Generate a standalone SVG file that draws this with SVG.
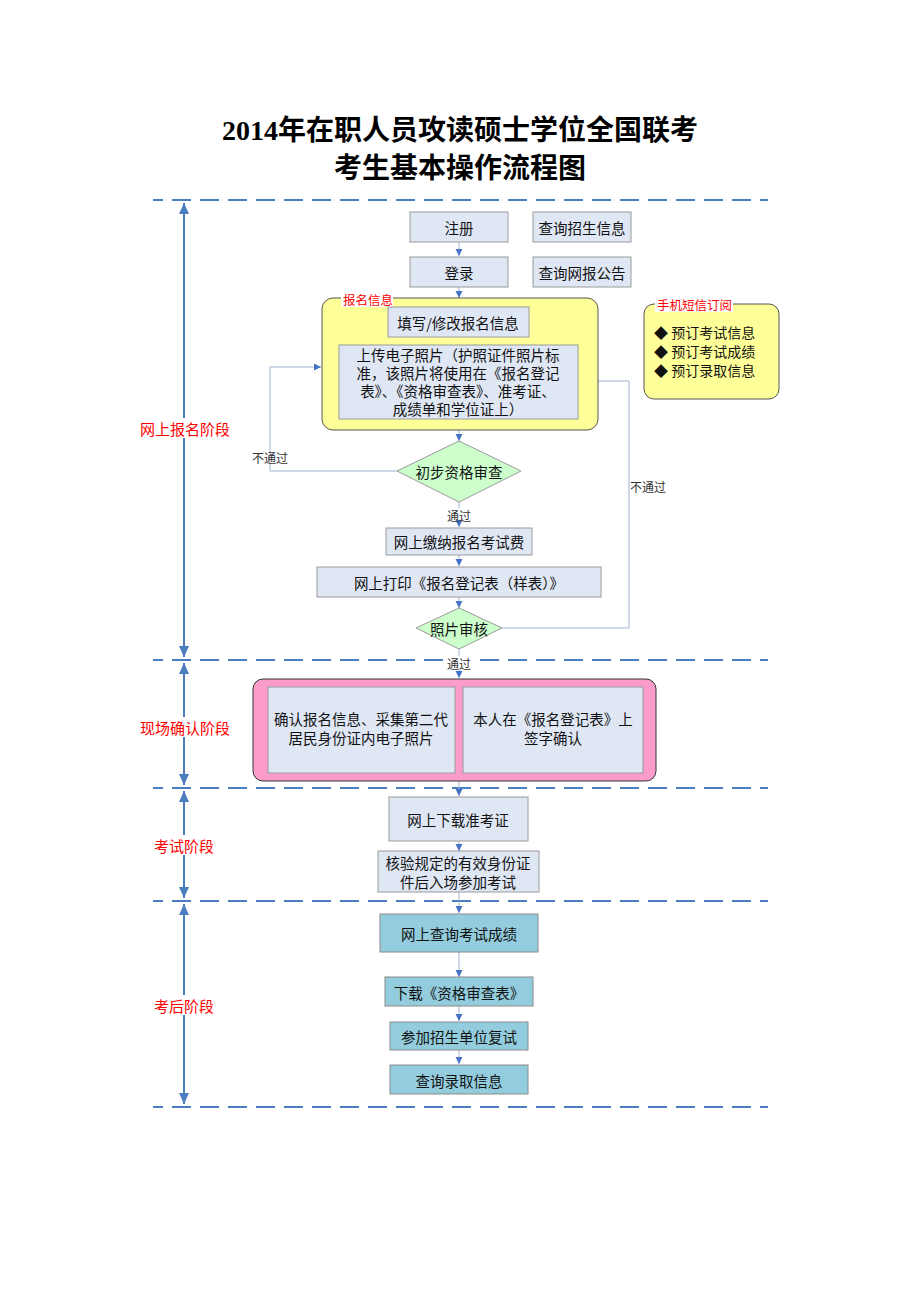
<svg xmlns="http://www.w3.org/2000/svg" width="920" height="1302" viewBox="0 0 920 1302">
<style>
.t{font-family:"Noto Sans CJK SC","Liberation Sans",sans-serif;font-size:14.5px;fill:#111;text-anchor:middle;dominant-baseline:central}
.title{font-family:"Liberation Serif","Noto Sans CJK SC",serif;font-weight:bold;font-size:28px;fill:#000;text-anchor:middle}
.red{font-family:"Noto Sans CJK SC",sans-serif;font-size:15px;fill:#ff0000;text-anchor:middle;dominant-baseline:central}
.redsm{font-family:"Noto Sans CJK SC",sans-serif;font-size:12.5px;fill:#ff0000;dominant-baseline:central}
.sm{font-family:"Noto Sans CJK SC",sans-serif;font-size:12px;fill:#333;text-anchor:middle;dominant-baseline:central}
.box{fill:#dfe7f5;stroke:#9a9a9a;stroke-width:1}
.teal{fill:#93cddd;stroke:#8a8a8a;stroke-width:1}
.dia{fill:#ccffcc;stroke:#9a9a9a;stroke-width:1}
.dash{stroke:#4a7cc0;stroke-width:2.2;stroke-dasharray:19 9;stroke-dashoffset:9;fill:none}
.stage{stroke:#4a7cc0;stroke-width:2;fill:none;marker-start:url(#big);marker-end:url(#big)}
.con{stroke:#9fb3d6;stroke-width:1;fill:none}
</style>
<defs>
<marker id="arr" markerUnits="userSpaceOnUse" markerWidth="8" markerHeight="8" refX="7" refY="4" orient="auto"><path d="M0,0.5 L7,4 L0,7.5 z" fill="#4472c4"/></marker>
<marker id="arrk" markerUnits="userSpaceOnUse" markerWidth="9" markerHeight="9" refX="8" refY="4.5" orient="auto"><path d="M0,0.5 L8,4.5 L0,8.5 z" fill="#111"/></marker>
<marker id="big" markerUnits="userSpaceOnUse" markerWidth="12" markerHeight="12" refX="11" refY="5" orient="auto-start-reverse"><path d="M0,0 L11,5 L0,10 z" fill="#4a7cc0"/></marker>
</defs>

<text class="title" x="460" y="140">2014年在职人员攻读硕士学位全国联考</text>
<text class="title" x="460" y="178">考生基本操作流程图</text>

<g id="dividers">
<line class="dash" x1="153" y1="200" x2="768" y2="200"/>
<line class="dash" x1="153" y1="660" x2="768" y2="660"/>
<line class="dash" x1="153" y1="788" x2="768" y2="788"/>
<line class="dash" x1="153" y1="901" x2="768" y2="901"/>
<line class="dash" x1="153" y1="1107" x2="768" y2="1107"/>
</g>

<g id="stages">
<line class="stage" x1="184" y1="203" x2="184" y2="657"/>
<line class="stage" x1="184" y1="663" x2="184" y2="785"/>
<line class="stage" x1="184" y1="791" x2="184" y2="898"/>
<line class="stage" x1="184" y1="904" x2="184" y2="1104"/>
<rect x="138" y="418" width="93" height="20" fill="#fff"/>
<text class="red" x="185" y="428">网上报名阶段</text>
<rect x="138" y="717" width="93" height="20" fill="#fff"/>
<text class="red" x="185" y="727">现场确认阶段</text>
<rect x="153" y="835" width="62" height="20" fill="#fff"/>
<text class="red" x="184" y="845">考试阶段</text>
<rect x="153" y="995" width="62" height="20" fill="#fff"/>
<text class="red" x="184" y="1005">考后阶段</text>
</g>

<g id="connectors">
<line class="con" x1="459" y1="242" x2="459" y2="256" marker-end="url(#arr)"/>
<line class="con" x1="459" y1="287" x2="459" y2="298" marker-end="url(#arr)"/>
<line class="con" x1="459" y1="430" x2="459" y2="441" marker-end="url(#arr)"/>
<polyline class="con" points="397,471 270,471 270,367 321,367" marker-end="url(#arr)"/>
<polyline class="con" points="502,628 629,628 629,381 579,381" marker-end="url(#arrk)"/>
<line class="con" x1="459" y1="502" x2="459" y2="508"/>
<line class="con" x1="459" y1="521" x2="459" y2="527" marker-end="url(#arr)"/>
<line class="con" x1="459" y1="555" x2="459" y2="566" marker-end="url(#arr)"/>
<line class="con" x1="459" y1="597" x2="459" y2="608" marker-end="url(#arr)"/>
<line class="con" x1="459" y1="649" x2="459" y2="656"/>
<line class="con" x1="459" y1="670" x2="459" y2="678" marker-end="url(#arr)"/>
<line class="con" x1="459" y1="781" x2="459" y2="796" marker-end="url(#arr)"/>
<line class="con" x1="459" y1="841" x2="459" y2="851" marker-end="url(#arr)"/>
<line class="con" x1="459" y1="892" x2="459" y2="913" marker-end="url(#arr)"/>
<line class="con" x1="459" y1="952" x2="459" y2="977" marker-end="url(#arr)"/>
<line class="con" x1="459" y1="1006" x2="459" y2="1021" marker-end="url(#arr)"/>
<line class="con" x1="459" y1="1050" x2="459" y2="1064" marker-end="url(#arr)"/>
<text class="sm" x="270" y="457">不通过</text>
<text class="sm" x="648" y="486">不通过</text>
<text class="sm" x="459" y="515">通过</text>
<rect x="445" y="656" width="28" height="14" fill="#fff"/>
<text class="sm" x="459" y="663">通过</text>
</g>

<g id="n-zhuce"><rect class="box" x="410" y="212" width="98" height="30"/><text class="t" x="459" y="227">注册</text></g>
<g id="n-cxzs"><rect class="box" x="533" y="212" width="98" height="30"/><text class="t" x="582" y="227">查询招生信息</text></g>
<g id="n-denglu"><rect class="box" x="410" y="257" width="98" height="30"/><text class="t" x="459" y="272">登录</text></g>
<g id="n-cxwb"><rect class="box" x="533" y="257" width="98" height="30"/><text class="t" x="582" y="272">查询网报公告</text></g>

<g id="n-bmxx">
<rect x="322" y="298" width="276" height="132" rx="11" fill="#ffff99" stroke="#555" stroke-width="1"/>
<rect x="341" y="292" width="52" height="15" fill="#fff"/>
<text class="redsm" x="343" y="299">报名信息</text>
</g>
<g id="n-txxg"><rect class="box" x="388" y="307" width="141" height="30"/><text class="t" x="458" y="322">填写/修改报名信息</text></g>
<g id="n-sczp"><rect class="box" x="339" y="345" width="239" height="74"/>
<text class="t" x="458" y="354"><tspan x="458" y="354">上传电子照片（护照证件照片标</tspan><tspan x="458" dy="18">准，该照片将使用在《报名登记</tspan><tspan x="458" dy="18">表》、《资格审查表》、准考证、</tspan><tspan x="458" dy="18">成绩单和学位证上）</tspan></text>
</g>

<g id="n-sms">
<rect x="644" y="304" width="135" height="95" rx="10" fill="#ffff99" stroke="#555" stroke-width="1"/>
<rect x="655" y="297" width="78" height="15" fill="#fff"/>
<text class="redsm" x="657" y="304">手机短信订阅</text>
<text class="t" x="654" y="332" style="text-anchor:start;font-size:14px"><tspan x="654" y="332">◆ 预订考试信息</tspan><tspan x="654" dy="19">◆ 预订考试成绩</tspan><tspan x="654" dy="19">◆ 预订录取信息</tspan></text>
</g>

<g id="n-cbzg"><polygon class="dia" points="459,441 521,471 459,502 397,471"/><text class="t" x="459" y="471">初步资格审查</text></g>
<g id="n-jnbm"><rect class="box" x="386" y="528" width="146" height="27"/><text class="t" x="459" y="541">网上缴纳报名考试费</text></g>
<g id="n-dybm"><rect class="box" x="317" y="567" width="284" height="30"/><text class="t" x="459" y="582">网上打印《报名登记表（样表）》</text></g>
<g id="n-zpsh"><polygon class="dia" points="459,608 502,628 459,649 416,628"/><text class="t" x="459" y="628">照片审核</text></g>

<g id="n-xcqr">
<rect x="253" y="679" width="403" height="102" rx="10" fill="#fb9ccb" stroke="#333" stroke-width="1"/>
</g>
<g id="n-qrbm"><rect class="box" x="268" y="687" width="187" height="86"/>
<text class="t" x="361" y="718"><tspan x="361" y="718">确认报名信息、采集第二代</tspan><tspan x="361" dy="19">居民身份证内电子照片</tspan></text></g>
<g id="n-qzqr"><rect class="box" x="463" y="687" width="180" height="86"/>
<text class="t" x="553" y="718"><tspan x="553" y="718">本人在《报名登记表》上</tspan><tspan x="553" dy="19">签字确认</tspan></text></g>

<g id="n-xzzkz"><rect class="box" x="389" y="797" width="139" height="44"/><text class="t" x="458" y="819">网上下载准考证</text></g>
<g id="n-hysf"><rect class="box" x="378" y="851" width="161" height="41"/>
<text class="t" x="458" y="862"><tspan x="458" y="862">核验规定的有效身份证</tspan><tspan x="458" dy="19">件后入场参加考试</tspan></text></g>

<g id="n-cxcj"><rect class="teal" x="380" y="914" width="158" height="38"/><text class="t" x="459" y="933">网上查询考试成绩</text></g>
<g id="n-xzzg"><rect class="teal" x="385" y="977" width="148" height="29"/><text class="t" x="459" y="992">下载《资格审查表》</text></g>
<g id="n-fs"><rect class="teal" x="390" y="1022" width="138" height="28"/><text class="t" x="459" y="1036">参加招生单位复试</text></g>
<g id="n-lq"><rect class="teal" x="390" y="1065" width="138" height="29"/><text class="t" x="459" y="1080">查询录取信息</text></g>
</svg>
